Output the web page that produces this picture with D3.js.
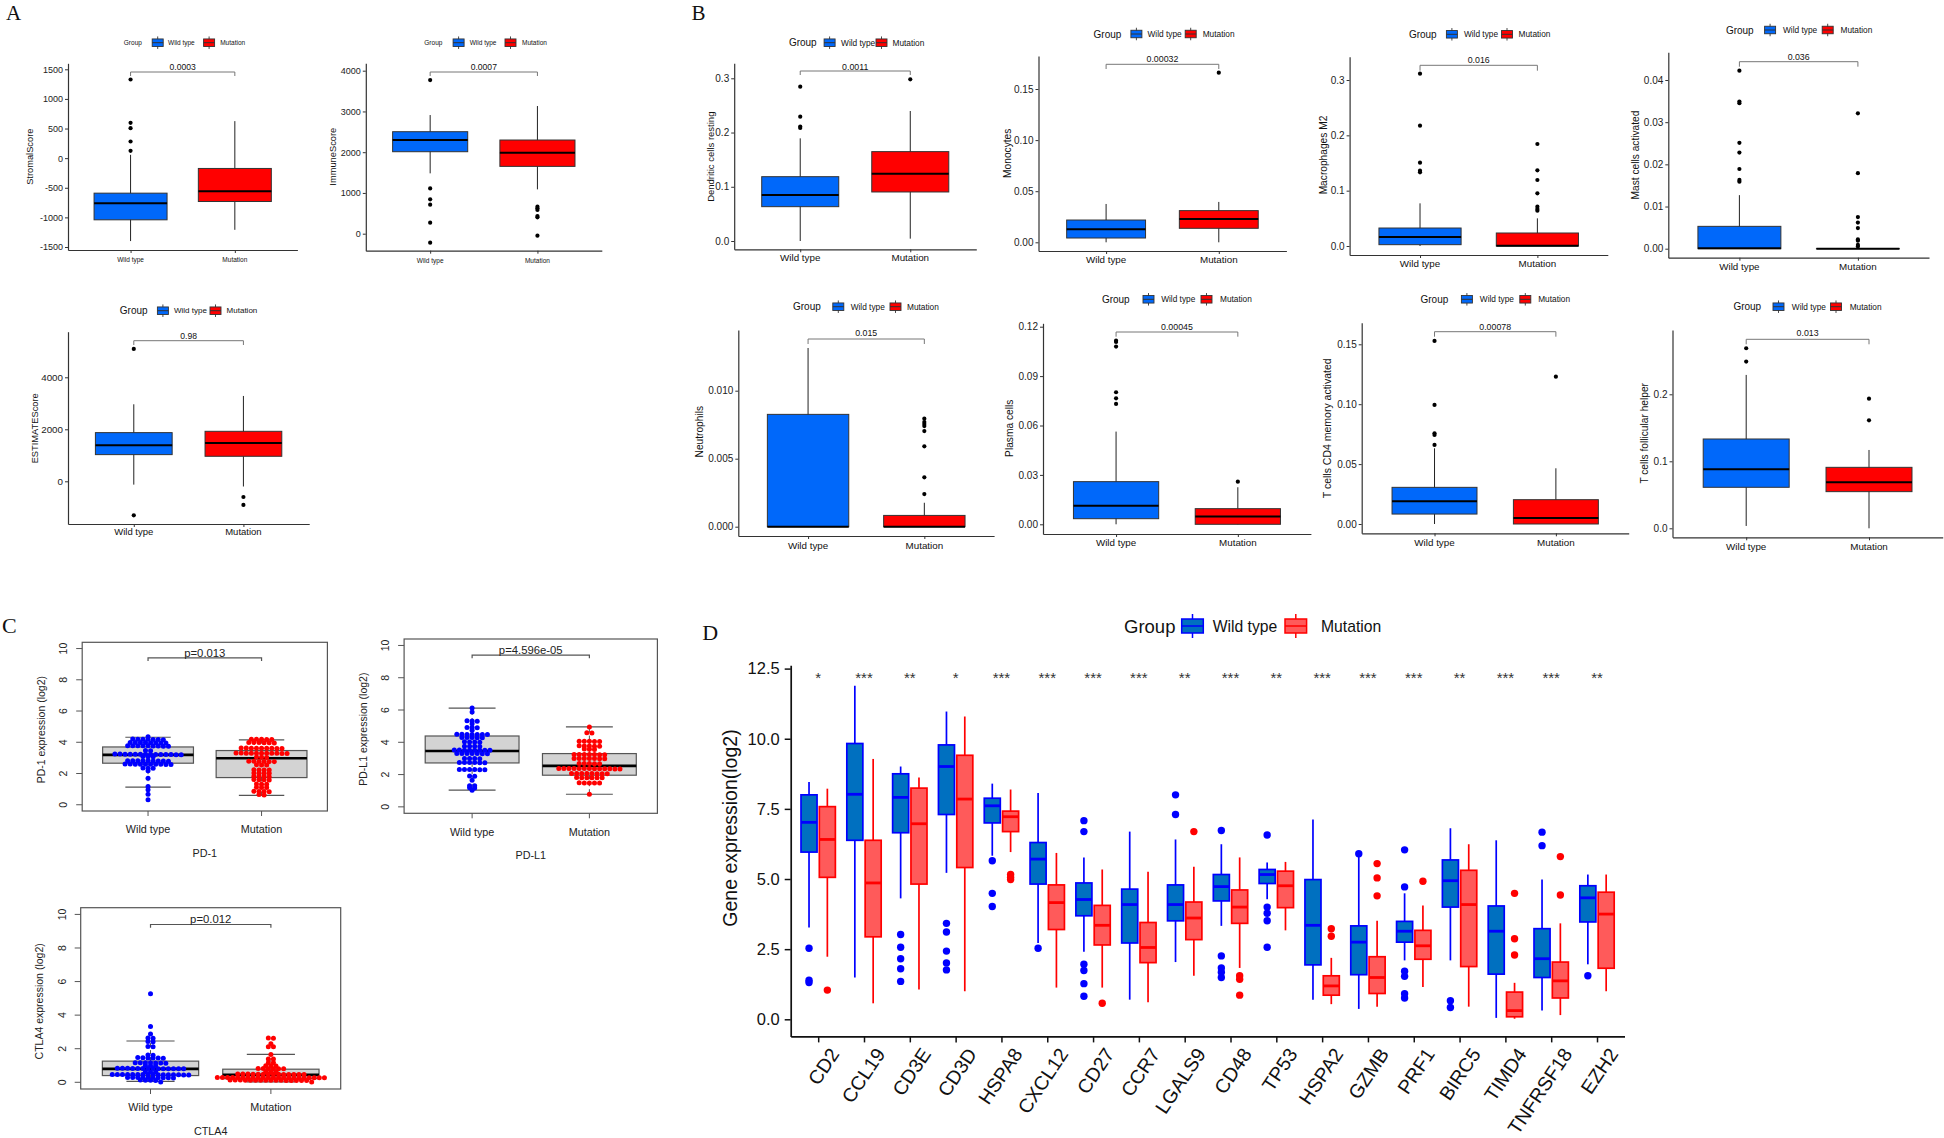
<!DOCTYPE html>
<html><head><meta charset="utf-8">
<script src="https://cdn.jsdelivr.net/npm/d3@7"></script>
<style>body{margin:0;background:#fff}svg{display:block}</style>
</head><body>
<svg id="c" width="1944" height="1138"></svg>
<script>
// ================= DATA =================
const groups = ["Wild type", "Mutation"];

// Panel A: box stats [lowWhisker, Q1, median, Q3, highWhisker] per group
const stromalBox = [[-1400, -1041, -760, -591, 56], [-1210, -732, -557, -174, 625]];
const stromalOut = [[124, 281, 506, 597, 1328], []];
const stromalTicks = [-1500, -1000, -500, 0, 500, 1000, 1500];
const immuneBox = [[1481, 2012, 2299, 2503, 2912], [1088, 1652, 1988, 2299, 3133]];
const immuneOut = [[3771, 1112, 843, 712, 270, -221], [663, 622, 581, 434, 401, -49]];
const immuneTicks = [0, 1000, 2000, 3000, 4000];
const estimateBox = [[-128, 1026, 1385, 1872, 2962], [-200, 962, 1474, 1923, 3282]];
const estimateOut = [[5090, -1308], [-603, -910]];
const estimateTicks = [0, 2000, 4000];

// Panel B
const dendriticBox = [[0, 0.0633, 0.0848, 0.1186, 0.1893], [0.0043, 0.0904, 0.1242, 0.1648, 0.2397]];
const dendriticOut = [[0.2084, 0.2109, 0.2293, 0.2846], [0.2981]];
const dendriticTicks = [0, 0.1, 0.2, 0.3];
const monoBox = [[0, 0.0042, 0.0127, 0.0218, 0.0375], [0, 0.0137, 0.0228, 0.031, 0.0395]];
const monoOut = [[], [0.166]];
const monoTicks = [0, 0.05, 0.1, 0.15];
const macroBox = [[0, 0.0024, 0.0163, 0.0325, 0.0771], [0, 0, 0.0006, 0.0235, 0.05]];
const macroOut = [[0.1331, 0.1361, 0.1506, 0.2175, 0.3114], [0.0639, 0.0669, 0.0711, 0.0952, 0.1193, 0.1367, 0.1843]];
const macroTicks = [0, 0.1, 0.2, 0.3];
const mastBox = [[0, 0, 0.0001, 0.0053, 0.0127], [0, 0, 0, 0, 0]];
const mastOut = [[0.0159, 0.0163, 0.0189, 0.0228, 0.0251, 0.0345, 0.0349, 0.0422], [0.0005, 0.0009, 0.0019, 0.0022, 0.0049, 0.0062, 0.0075, 0.0179, 0.0321]];
const mastTicks = [0, 0.01, 0.02, 0.03, 0.04];
const neutroBox = [[0, 0, 0, 0.00826, 0.01314], [0, 0, 0, 0.00083, 0.00176]];
const neutroOut = [[], [0.0024, 0.00363, 0.00591, 0.00703, 0.0074, 0.00755, 0.0077, 0.00794]];
const neutroTicks = [0, 0.005, 0.01];
const plasmaBox = [[0, 0.0034, 0.0113, 0.0259, 0.0563], [0, 0, 0.0047, 0.0095, 0.0225]];
const plasmaOut = [[0.0731, 0.0765, 0.0802, 0.1079, 0.1107, 0.1115], [0.0259]];
const plasmaTicks = [0, 0.03, 0.06, 0.09, 0.12];
const cd4Box = [[0, 0.0083, 0.0189, 0.0306, 0.0632], [0, 0, 0.005, 0.0203, 0.0465]];
const cd4Out = [[0.066, 0.0743, 0.0757, 0.0994, 0.1528], [0.123]];
const cd4Ticks = [0, 0.05, 0.1, 0.15];
const tfhBox = [[0.0035, 0.0612, 0.0881, 0.1333, 0.2289], [0, 0.0547, 0.0687, 0.091, 0.1169]];
const tfhOut = [[0.2488, 0.2687], [0.1612, 0.1935]];
const tfhTicks = [0, 0.1, 0.2];

// Panel C
const cTicks = [0, 2, 4, 6, 8, 10];
const pd1Box = [[1.13, 2.66, 3.19, 3.70, 4.32], [0.6, 1.74, 2.98, 3.47, 4.15]];
const pd1WT = [4.36, 4.21, 4.2, 4.19, 4.19, 4.18, 4.17, 4.16, 3.99, 3.99, 3.98, 3.98, 3.97, 3.97, 3.96, 3.96,
  3.78, 3.78, 3.77, 3.77, 3.77, 3.76, 3.76, 3.75, 3.75, 3.48, 3.46, 3.25, 3.25, 3.24, 3.24, 3.23, 3.23, 3.23,
  3.22, 3.22, 3.22, 3.21, 3.21, 3.2, 3.2, 3.09, 3.08, 3.07, 2.82, 2.82, 2.81, 2.81, 2.81, 2.8, 2.8, 2.8, 2.79,
  2.61, 2.61, 2.6, 2.6, 2.6, 2.59, 2.59, 2.59, 2.58, 2.58, 2.35, 2.34, 2.33, 2.17, 1.7, 1.17, 0.96, 0.68, 0.32];
const pd1Mut = [4.2, 4.19, 4.19, 4.18, 4.17, 3.99, 3.98, 3.98, 3.97, 3.97, 3.96, 3.63, 3.63, 3.62, 3.62, 3.62,
  3.61, 3.61, 3.6, 3.6, 3.31, 3.31, 3.3, 3.3, 3.3, 3.3, 3.29, 3.29, 3.29, 3.28, 3.28, 3.05, 3.04, 3.03,
  2.78, 2.78, 2.77, 2.77, 2.76, 2.76, 2.56, 2.55, 2.55, 2.24, 2.23, 2.23, 2.22, 2.03, 2.02, 2.02, 2.01,
  1.82, 1.81, 1.81, 1.8, 1.61, 1.6, 1.6, 1.59, 1.33, 1.32, 1.32, 1.12, 1.11, 1.1, 0.86, 0.85, 0.85, 0.84, 0.65, 0.63];
const pdl1Box = [[1.03, 2.72, 3.46, 4.39, 6.12], [0.78, 1.96, 2.54, 3.30, 4.95]];
const pdl1WT = [6.12, 5.88, 5.33, 5.32, 5.31, 5.15, 4.92, 4.91, 4.9, 4.74, 4.5, 4.5, 4.49, 4.49, 4.49, 4.48, 4.48,
  4.3, 4.29, 4.29, 4.28, 4.28, 4.03, 4.02, 4.02, 4.01, 3.76, 3.75, 3.75, 3.74, 3.52, 3.52, 3.51, 3.51, 3.51,
  3.5, 3.5, 3.5, 3.31, 3.31, 3.3, 3.3, 3.3, 3.29, 3.29, 3.0, 2.99, 2.99, 2.98, 2.75, 2.75, 2.74, 2.74, 2.73,
  2.73, 2.32, 2.31, 2.31, 2.31, 2.3, 2.3, 1.91, 1.9, 1.65, 1.31, 1.3, 1.18, 1.17, 1.03];
const pdl1Mut = [4.95, 4.59, 4.58, 4.07, 4.06, 4.06, 4.05, 4.05, 3.78, 3.77, 3.77, 3.76, 3.76, 3.58, 3.57, 3.56,
  3.25, 3.25, 3.24, 3.24, 3.24, 3.23, 3.23, 3.0, 3.0, 2.99, 2.99, 2.99, 2.98, 2.98, 2.69, 2.68, 2.68, 2.67, 2.67,
  2.38, 2.38, 2.38, 2.37, 2.37, 2.37, 2.37, 2.36, 2.36, 2.36, 2.36, 2.35, 2.35, 2.07, 2.07, 2.06, 2.06, 2.06,
  2.05, 2.05, 2.05, 1.82, 1.81, 1.81, 1.8, 1.8, 1.8, 1.49, 1.48, 1.48, 1.47, 1.47, 0.78];
const ctla4Box = [[0.06, 0.4, 0.8, 1.26, 2.46], [0.02, 0.22, 0.44, 0.78, 1.66]];
const ctla4WT = [5.27, 3.33, 2.87, 2.64, 2.62, 2.43, 2.41, 2.13, 2.11, 1.63, 1.61, 1.47, 1.46, 1.45, 1.45, 1.44, 1.43,
  1.17, 1.17, 1.16, 1.16, 1.15, 1.15, 1.14, 1.0, 0.99, 0.98, 0.83, 0.83, 0.83, 0.82, 0.82, 0.82, 0.82, 0.82,
  0.81, 0.81, 0.81, 0.81, 0.8, 0.8, 0.63, 0.62, 0.61, 0.47, 0.47, 0.47, 0.46, 0.46, 0.46, 0.46, 0.46, 0.46,
  0.45, 0.45, 0.45, 0.45, 0.45, 0.44, 0.44, 0.29, 0.29, 0.28, 0.28, 0.28, 0.28, 0.27, 0.27, 0.27, 0.26,
  0.13, 0.12, 0.12, 0.11, 0.02];
const ctla4Mut = [2.64, 2.62, 2.29, 2.12, 2.11, 1.66, 1.39, 1.38, 1.17, 1.16, 0.99, 0.98, 0.97, 0.82, 0.82, 0.81,
  0.81, 0.8, 0.8, 0.63, 0.62, 0.61, 0.49, 0.49, 0.49, 0.48, 0.48, 0.48, 0.48, 0.48, 0.48, 0.47, 0.47, 0.47,
  0.47, 0.47, 0.29, 0.29, 0.29, 0.29, 0.29, 0.28, 0.28, 0.28, 0.28, 0.28, 0.28, 0.28, 0.28, 0.28, 0.27, 0.27,
  0.27, 0.27, 0.27, 0.27, 0.27, 0.27, 0.13, 0.13, 0.13, 0.12, 0.12, 0.12, 0.12, 0.12, 0.12, 0.12, 0.12, 0.11,
  0.11, 0.11, 0.11, 0.11, 0.02];

// Panel D
const genes = ["CD2", "CCL19", "CD3E", "CD3D", "HSPA8", "CXCL12", "CD27", "CCR7", "LGALS9", "CD48", "TP53",
  "HSPA2", "GZMB", "PRF1", "BIRC5", "TIMD4", "TNFRSF18", "EZH2"];
const geneSig = ["*", "***", "**", "*", "***", "***", "***", "***", "**", "***", "**", "***", "***", "***", "**", "***", "***", "**"];
const dTicks = [0, 2.5, 5, 7.5, 10, 12.5];
const wtStats = [[3.27, 5.96, 7.02, 8.0, 8.46], [1.49, 6.38, 8.02, 9.83, 11.89], [4.31, 6.65, 7.91, 8.75, 9.01],
  [5.22, 7.30, 9.01, 9.78, 10.97], [5.83, 7.0, 7.61, 7.88, 8.40], [2.72, 4.82, 5.71, 6.30, 8.07],
  [2.41, 3.69, 4.27, 4.86, 5.77], [0.70, 2.72, 4.09, 4.64, 6.69], [2.04, 3.51, 4.09, 4.79, 6.41],
  [3.33, 4.22, 4.73, 5.16, 6.24], [4.28, 4.84, 5.16, 5.34, 5.59], [0.70, 1.94, 3.35, 4.98, 7.12],
  [0.37, 1.59, 2.75, 3.33, 5.8], [2.10, 2.75, 3.14, 3.49, 4.49], [2.10, 4.0, 4.94, 5.68, 6.81],
  [0.05, 1.61, 3.14, 4.04, 6.38], [0.31, 1.49, 2.16, 3.23, 4.98], [1.96, 3.47, 4.33, 4.76, 5.16]];
const mutStats = [[2.23, 5.06, 6.41, 7.58, 8.22], [0.57, 2.94, 4.86, 6.38, 9.28], [1.06, 4.82, 6.97, 8.24, 8.62],
  [1.0, 5.41, 7.85, 9.41, 10.79], [5.96, 6.69, 7.22, 7.42, 8.19], [1.13, 3.20, 4.16, 4.79, 5.93],
  [1.13, 2.65, 3.35, 4.06, 5.34], [0.61, 2.02, 2.56, 3.45, 5.26], [1.55, 2.84, 3.61, 4.18, 5.44],
  [1.83, 3.42, 4.0, 4.61, 5.77], [3.17, 3.98, 4.76, 5.28, 5.61], [0.54, 0.86, 1.19, 1.55, 2.19],
  [0.45, 0.92, 1.49, 2.23, 3.51], [1.15, 2.14, 2.62, 3.17, 4.06], [0.45, 1.88, 4.09, 5.31, 6.24],
  [0.02, 0.09, 0.31, 0.97, 1.3], [0.15, 0.76, 1.37, 2.04, 3.42], [1.0, 1.82, 3.75, 4.53, 5.16]];
const wtOut = [[2.53, 1.39, 1.31], [], [3.02, 2.57, 2.16, 1.80, 1.35], [3.42, 3.11, 2.43, 2.01, 1.76],
  [5.65, 4.49, 4.02], [2.53], [7.08, 6.69, 1.96, 1.74, 1.27, 0.82], [], [8.0, 7.30],
  [6.73, 2.26, 1.83, 1.68, 1.49], [6.57, 4.0, 3.78, 3.51, 2.57], [], [5.9], [6.04, 4.72, 1.71, 1.53, 0.91, 0.76],
  [0.66, 0.42], [], [6.67, 6.19], [1.55]];
const mutOut = [[1.04], [], [], [], [5.16, 5.06, 4.98], [], [0.57], [], [6.69], [1.55, 1.43, 0.86], [],
  [3.23, 2.96], [5.55, 5.04, 4.40], [4.92], [], [4.49, 2.87, 2.29], [5.80, 4.43], []];

// ================= LAYOUT / STYLE =================
const SANS = "'Liberation Sans', Arial, sans-serif";
const SERIF = "'Liberation Serif', 'Times New Roman', serif";
const svg = d3.select("#c");
const ggFill = ["#0068FA", "#FF0000"];

function yFromTicks(tA, tB, top, bottom) {
  const k = (tB[1] - tA[1]) / (tB[0] - tA[0]);
  const vTop = tA[0] + (top - tA[1]) / k;
  const vBot = tA[0] + (bottom - tA[1]) / k;
  return d3.scaleLinear().domain([vBot, vTop]).range([bottom, top]);
}
function txt(g, x, y, s, size, opts = {}) {
  const t = g.append("text").attr("x", x).attr("y", y).text(s)
    .attr("font-family", opts.family || SANS).attr("font-size", size)
    .attr("fill", opts.fill || "#111")
    .attr("text-anchor", opts.anchor || "start")
    .attr("dominant-baseline", opts.baseline || "central");
  if (opts.rotate !== undefined) t.attr("transform", `rotate(${opts.rotate},${x},${y})`);
  return t;
}
function key(g, x, yc, w, h, wh, fill, stroke, sw, mw) {
  g.append("line").attr("x1", x + w / 2).attr("x2", x + w / 2).attr("y1", yc - h / 2 - wh).attr("y2", yc + h / 2 + wh)
    .attr("stroke", stroke).attr("stroke-width", sw);
  g.append("rect").attr("x", x).attr("y", yc - h / 2).attr("width", w).attr("height", h)
    .attr("fill", fill).attr("stroke", stroke).attr("stroke-width", sw);
  g.append("line").attr("x1", x).attr("x2", x + w).attr("y1", yc).attr("y2", yc)
    .attr("stroke", stroke).attr("stroke-width", mw);
}

function ggPanel(L, box, out, ticks, fmt, pval, ylab) {
  const g = svg.append("g");
  const x = d3.scalePoint().domain(groups).range([L.x0, L.x1]).padding(0.6);
  const y = yFromTicks(L.tA, L.tB, L.top, L.bottom);
  const bw = 0.7 * x.step();
  groups.forEach((grp, i) => {
    const s = box[i], cx = x(grp);
    g.append("line").attr("x1", cx).attr("x2", cx).attr("y1", y(s[0])).attr("y2", y(s[4]))
      .attr("stroke", "#222").attr("stroke-width", 1);
    g.append("rect").attr("x", cx - bw / 2).attr("width", bw).attr("y", y(s[3]))
      .attr("height", Math.max(0.01, y(s[1]) - y(s[3])))
      .attr("fill", ggFill[i]).attr("stroke", "#333").attr("stroke-width", 1);
    g.append("line").attr("x1", cx - bw / 2).attr("x2", cx + bw / 2).attr("y1", y(s[2])).attr("y2", y(s[2]))
      .attr("stroke", "#000").attr("stroke-width", 2);
    out[i].forEach(v => g.append("circle").attr("cx", cx).attr("cy", y(v)).attr("r", 2.1).attr("fill", "#000"));
  });
  const ya = g.append("g").attr("transform", `translate(${L.x0},0)`)
    .call(d3.axisLeft(y).tickValues(ticks).tickFormat(fmt).tickSize(3).tickSizeOuter(0).tickPadding(2));
  const xa = g.append("g").attr("transform", `translate(0,${L.bottom})`)
    .call(d3.axisBottom(x).tickSize(3).tickSizeOuter(0).tickFormat(""));
  [ya, xa].forEach(a => {
    a.select(".domain").attr("stroke", "#333").attr("stroke-width", 1.2);
    a.selectAll(".tick line").attr("stroke", "#333");
  });
  ya.selectAll("text").attr("font-size", L.ft).attr("font-family", SANS).attr("fill", "#222");
  groups.forEach(grp => txt(g, x(grp), L.xLabY, grp, L.fx, { anchor: "middle" }));
  txt(g, L.yLab[0], L.yLab[1], ylab, L.fy, { anchor: "middle", rotate: -90 });
  // bracket + p value
  const xa1 = x(groups[0]), xa2 = x(groups[1]);
  g.append("path").attr("d", `M${xa1},${L.p[2]}V${L.p[1]}H${xa2}V${L.p[2]}`)
    .attr("fill", "none").attr("stroke", "#777").attr("stroke-width", 1);
  txt(g, (xa1 + xa2) / 2, L.p[0], pval, L.fp, { anchor: "middle" });
  // legend
  const lx = L.leg;
  txt(g, lx[0], L.legY, "Group", L.fg);
  key(g, lx[1], L.legY, 11, 7.5, 2.5, ggFill[0], "#333", 0.9, 1);
  txt(g, lx[2], L.legY, groups[0], L.fl);
  key(g, lx[3], L.legY, 11, 7.5, 2.5, ggFill[1], "#333", 0.9, 1);
  txt(g, lx[4], L.legY, groups[1], L.fl);
}

const intFmt = v => String(v);
const fA = { ft: 9, fx: 6.5, fl: 6.5, fg: 6.5, fp: 8.6, fy: 9.3 };
const fA3 = { ft: 9.8, fx: 9.5, fl: 8, fg: 10, fp: 8.6, fy: 9.3 };
const fB = { ft: 10, fx: 9.8, fl: 8.3, fg: 10, fp: 8.8, fy: 10.2 };

// Panel letters
txt(svg, 6, 20, "A", 21, { family: SERIF, baseline: "alphabetic" });
txt(svg, 691.5, 19.5, "B", 21, { family: SERIF, baseline: "alphabetic" });
txt(svg, 2, 633, "C", 22, { family: SERIF, baseline: "alphabetic" });
txt(svg, 702.3, 640, "D", 22, { family: SERIF, baseline: "alphabetic" });

ggPanel({ ...fA, x0: 68, x1: 297.4, top: 63.3, bottom: 250, tA: [1500, 69.3], tB: [-1500, 247], legY: 42.7,
  leg: [123.8, 152.2, 168, 203.6, 220.2], xLabY: 259, yLab: [29.7, 156.7], p: [67, 72, 76] },
  stromalBox, stromalOut, stromalTicks, intFmt, "0.0003", "StromalScore");
ggPanel({ ...fA, x0: 365.8, x1: 601.8, top: 63.3, bottom: 250.7, tA: [4000, 70.7], tB: [0, 233.7], legY: 42.7,
  leg: [424.3, 453.1, 469.7, 505, 522], xLabY: 260.5, yLab: [333.3, 156.7], p: [67, 72, 76] },
  immuneBox, immuneOut, immuneTicks, intFmt, "0.0007", "ImmuneScore");
ggPanel({ ...fA3, x0: 68, x1: 309.2, top: 331.7, bottom: 524, tA: [4000, 377.3], tB: [0, 481.3], legY: 310.7,
  leg: [119.8, 157.4, 174, 210, 226.6], xLabY: 531.7, yLab: [34.8, 428.3], p: [335.7, 340.7, 345] },
  estimateBox, estimateOut, estimateTicks, intFmt, "0.98", "ESTIMATEScore");

ggPanel({ ...fB, fy: 9.5, x0: 734.2, x1: 976.3, top: 63.3, bottom: 249.3, tA: [0.3, 78.3], tB: [0, 241], legY: 42.7,
  leg: [788.9, 824.1, 841.1, 876, 892.5], xLabY: 257.3, yLab: [710.1, 156.7], p: [66.7, 71, 75] },
  dendriticBox, dendriticOut, dendriticTicks, d3.format(".1f"), "0.0011", "Dendritic cells resting");
ggPanel({ ...fB, x0: 1038.5, x1: 1286.4, top: 56, bottom: 251, tA: [0.15, 89], tB: [0, 242.3], legY: 34,
  leg: [1093.6, 1130.9, 1147.5, 1185.2, 1202.7], xLabY: 259.7, yLab: [1007.4, 153.3], p: [59.3, 64.3, 69] },
  monoBox, monoOut, monoTicks, d3.format(".2f"), "0.00032", "Monocytes");
ggPanel({ ...fB, x0: 1349.6, x1: 1607.8, top: 56.7, bottom: 255, tA: [0.3, 80], tB: [0, 246], legY: 34.3,
  leg: [1408.9, 1446.4, 1463.9, 1501.5, 1518.6], xLabY: 263.3, yLab: [1323.4, 155], p: [60, 65.3, 70.7] },
  macroBox, macroOut, macroTicks, d3.format(".1f"), "0.016", "Macrophages M2");
ggPanel({ ...fB, x0: 1668.3, x1: 1929, top: 52.3, bottom: 257.7, tA: [0.04, 80], tB: [0, 248.7], legY: 30,
  leg: [1725.9, 1764.6, 1783, 1822.2, 1840.5], xLabY: 266.7, yLab: [1635.3, 155], p: [56.7, 61.7, 66.7] },
  mastBox, mastOut, mastTicks, d3.format(".2f"), "0.036", "Mast cells activated");
ggPanel({ ...fB, x0: 738.3, x1: 994.1, top: 330, bottom: 536, tA: [0.01, 390.7], tB: [0, 526.7], legY: 306.7,
  leg: [793, 832.8, 850.7, 890, 907], xLabY: 545, yLab: [699.8, 431.7], p: [333.3, 339, 344] },
  neutroBox, neutroOut, neutroTicks, d3.format(".3f"), "0.015", "Neutrophils");
ggPanel({ ...fB, x0: 1043, x1: 1310.9, top: 323.3, bottom: 534, tA: [0.12, 326.7], tB: [0, 524.3], legY: 299.3,
  leg: [1101.9, 1143, 1161.2, 1201, 1220], xLabY: 542.7, yLab: [1009.9, 428.3], p: [326.7, 332, 336.7] },
  plasmaBox, plasmaOut, plasmaTicks, d3.format(".2f"), "0.00045", "Plasma cells");
ggPanel({ ...fB, fy: 10.5, x0: 1361.7, x1: 1628.7, top: 322.7, bottom: 533.3, tA: [0.15, 344.3], tB: [0, 524], legY: 299.3,
  leg: [1420.5, 1461.4, 1479.8, 1519.8, 1538.2], xLabY: 542.3, yLab: [1327.5, 428.3], p: [326.7, 331.7, 336.7] },
  cd4Box, cd4Out, cd4Ticks, d3.format(".2f"), "0.00078", "T cells CD4 memory activated");
ggPanel({ ...fB, x0: 1672.5, x1: 1942.7, top: 330, bottom: 537.3, tA: [0.2, 394.3], tB: [0, 528.3], legY: 306.7,
  leg: [1733.4, 1773, 1791.8, 1830.5, 1849.7], xLabY: 546.7, yLab: [1644.5, 433.3], p: [333.3, 339.3, 344.3] },
  tfhBox, tfhOut, tfhTicks, d3.format(".1f"), "0.013", "T cells follicular helper");

// ---------- Panel C (base R style) ----------
const ptCol = ["#0000FF", "#FF0000"];
function basePanel(L, box, pts, pval, ylab, title) {
  const g = svg.append("g");
  const x = d3.scaleLinear().domain([0.42, 2.58]).range([L.l, L.r]);
  const y = d3.scaleLinear().domain([-0.4, 10.4]).range([L.b, L.t]);
  const half = (x(2) - x(1)) * 0.4, cap = half * 0.5;
  box.forEach((s, i) => {
    const cx = x(i + 1);
    g.append("line").attr("x1", cx).attr("x2", cx).attr("y1", y(s[3])).attr("y2", y(s[4]))
      .attr("stroke", "#555").attr("stroke-dasharray", "4,3");
    g.append("line").attr("x1", cx).attr("x2", cx).attr("y1", y(s[1])).attr("y2", y(s[0]))
      .attr("stroke", "#555").attr("stroke-dasharray", "4,3");
    [s[0], s[4]].forEach(v => g.append("line").attr("x1", cx - cap).attr("x2", cx + cap)
      .attr("y1", y(v)).attr("y2", y(v)).attr("stroke", "#555").attr("stroke-width", 1.2));
    g.append("rect").attr("x", cx - half).attr("width", 2 * half).attr("y", y(s[3])).attr("height", y(s[1]) - y(s[3]))
      .attr("fill", "#D3D3D3").attr("stroke", "#555").attr("stroke-width", 1.2);
    g.append("line").attr("x1", cx - half).attr("x2", cx + half).attr("y1", y(s[2])).attr("y2", y(s[2]))
      .attr("stroke", "#000").attr("stroke-width", 2.6);
    // beeswarm (center) layout: rows of near-equal values spread horizontally
    const vals = pts[i].slice().sort((a, b) => b - a);
    const rows = [];
    vals.forEach(v => {
      const py = y(v);
      const r = rows[rows.length - 1];
      if (r && Math.abs(py - r.y0) <= 2) r.items.push(py); else rows.push({ y0: py, items: [py] });
    });
    rows.forEach(r => r.items.forEach((py, j) => {
      g.append("circle").attr("cx", cx + (j - (r.items.length - 1) / 2) * 5.1).attr("cy", py).attr("r", 2.5)
        .attr("fill", ptCol[i]);
    }));
  });
  g.append("rect").attr("x", L.l).attr("y", L.t).attr("width", L.r - L.l).attr("height", L.b - L.t)
    .attr("fill", "none").attr("stroke", "#555").attr("stroke-width", 1.2);
  cTicks.forEach(v => {
    g.append("line").attr("x1", L.l).attr("x2", L.l - 6).attr("y1", y(v)).attr("y2", y(v)).attr("stroke", "#555");
    txt(g, L.l - 19, y(v), String(v), 10.5, { anchor: "middle", rotate: -90, fill: "#222" });
  });
  groups.forEach((grp, i) => {
    g.append("line").attr("x1", x(i + 1)).attr("x2", x(i + 1)).attr("y1", L.b).attr("y2", L.b + 5).attr("stroke", "#555");
    txt(g, x(i + 1), L.b + 18.3, grp, 10.8, { anchor: "middle", fill: "#222" });
  });
  txt(g, (L.l + L.r) / 2, L.b + 42, title, 10.8, { anchor: "middle", fill: "#222" });
  txt(g, L.l - 41.5, (L.t + L.b) / 2 + 3, ylab, 10.5, { anchor: "middle", rotate: -90, fill: "#222" });
  g.append("path").attr("d", `M${x(1)},${y(9.2)}V${y(9.4)}H${x(2)}V${y(9.2)}`)
    .attr("fill", "none").attr("stroke", "#555").attr("stroke-width", 1.2);
  txt(g, (x(1) + x(2)) / 2, y(9.72), pval, 11.3, { anchor: "middle", fill: "#222" });
}
basePanel({ l: 82.2, r: 327.4, t: 642.3, b: 811 }, pd1Box, [pd1WT, pd1Mut], "p=0.013", "PD-1 expression (log2)", "PD-1");
basePanel({ l: 404.1, r: 657.4, t: 639, b: 813.3 }, pdl1Box, [pdl1WT, pdl1Mut], "p=4.596e-05", "PD-L1 expression (log2)", "PD-L1");
basePanel({ l: 80.7, r: 340.7, t: 907.7, b: 1089 }, ctla4Box, [ctla4WT, ctla4Mut], "p=0.012", "CTLA4 expression (log2)", "CTLA4");

// ---------- Panel D ----------
(function () {
  const L = { x0: 790.7, x1: 1624.5, top: 665.2, bottom: 1036.4, tA: [12.5, 668.6], tB: [0, 1019.3] };
  const C = [{ fill: "#0070C0", line: "#0000FF" }, { fill: "#FF5A5A", line: "#FF0000" }];
  const g = svg.append("g");
  const x = d3.scalePoint().domain(genes).range([L.x0, L.x1]).padding(0.6);
  const y = yFromTicks(L.tA, L.tB, L.top, L.bottom);
  const st = x.step(), off = 0.2 * st, bw = 0.35 * st;
  genes.forEach((gn, i) => {
    [[wtStats[i], wtOut[i], -off, C[0]], [mutStats[i], mutOut[i], off, C[1]]].forEach(([s, o, dx, c]) => {
      const cx = x(gn) + dx;
      g.append("line").attr("x1", cx).attr("x2", cx).attr("y1", y(s[0])).attr("y2", y(s[4]))
        .attr("stroke", c.line).attr("stroke-width", 1.7);
      g.append("rect").attr("x", cx - bw / 2).attr("width", bw).attr("y", y(s[3])).attr("height", y(s[1]) - y(s[3]))
        .attr("fill", c.fill).attr("stroke", c.line).attr("stroke-width", 1.7);
      g.append("line").attr("x1", cx - bw / 2).attr("x2", cx + bw / 2).attr("y1", y(s[2])).attr("y2", y(s[2]))
        .attr("stroke", c.line).attr("stroke-width", 2.8);
      o.forEach(v => g.append("circle").attr("cx", cx).attr("cy", y(v)).attr("r", 3.7).attr("fill", c.line));
    });
    txt(g, x(gn), 683, geneSig[i], 15, { anchor: "middle", baseline: "alphabetic", fill: "#333" });
  });
  const ya = g.append("g").attr("transform", `translate(${L.x0},0)`)
    .call(d3.axisLeft(y).tickValues(dTicks).tickFormat(d3.format(".1f")).tickSize(6).tickSizeOuter(0).tickPadding(5));
  const xa = g.append("g").attr("transform", `translate(0,${L.bottom})`)
    .call(d3.axisBottom(x).tickSize(6).tickSizeOuter(0).tickFormat(""));
  [ya, xa].forEach(a => {
    a.select(".domain").attr("stroke", "#111").attr("stroke-width", 1.7);
    a.selectAll(".tick line").attr("stroke", "#111").attr("stroke-width", 1.5);
  });
  ya.selectAll("text").attr("font-size", 16.5).attr("font-family", SANS).attr("fill", "#111");
  genes.forEach(gn => {
    const ax = x(gn) + 10, ay = 1046;
    txt(g, ax, ay, gn, 19.5, { anchor: "end", baseline: "hanging", rotate: -56 });
  });
  txt(g, 730, 828, "Gene expression(log2)", 19.5, { anchor: "middle", rotate: -90 });
  // legend
  txt(g, 1124, 626, "Group", 18.5);
  key(g, 1181.7, 626, 21.6, 14, 5, C[0].fill, C[0].line, 1.5, 1.5);
  txt(g, 1212.7, 626, groups[0], 15.7);
  key(g, 1285, 626, 21.6, 14, 5, C[1].fill, C[1].line, 1.5, 1.5);
  txt(g, 1321, 626, groups[1], 15.7);
})();
</script>
</body></html>
